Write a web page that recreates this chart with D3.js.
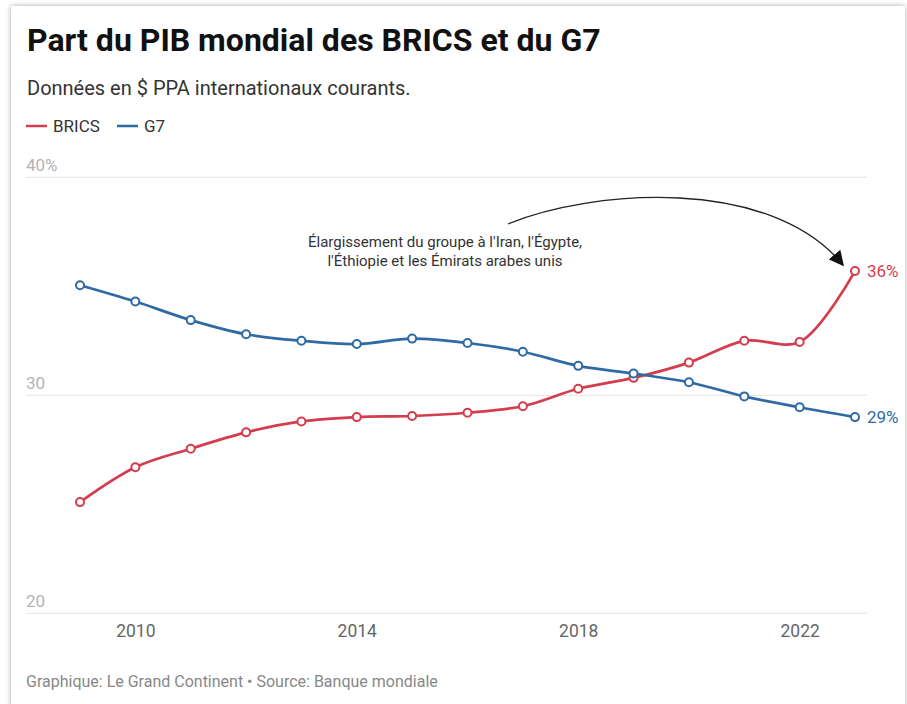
<!DOCTYPE html>
<html>
<head>
	<meta charset="utf-8">
	<title></title>
	<style>
		body { margin: 0; background: #fff; }
		#card {
			position: absolute; left: 11px; top: 6px; width: 894px; height: 720px;
			background: #fff; box-shadow: 0 0 5px rgba(0,0,0,0.35);
		}
		svg { position: absolute; left: 0; top: 0; }
		text { font-family: Roboto, "Noto Sans", sans-serif; }
	</style>
</head>
<body>
<div id="card"></div>
<svg id="chart" width="907" height="704"></svg>

<script src="https://d3js.org/d3.v7.min.js"></script>
<script>
	// Data (% of world GDP, PPP)
	const years = [2009, 2010, 2011, 2012, 2013, 2014, 2015, 2016, 2017, 2018, 2019, 2020, 2021, 2022, 2023]
	const brics = [25.1, 26.7, 27.55, 28.3, 28.8, 29.0, 29.05, 29.2, 29.5, 30.3, 30.8, 31.5, 32.5, 32.45, 35.7]
	const g7 = [35.05, 34.3, 33.45, 32.8, 32.5, 32.35, 32.6, 32.4, 32.0, 31.35, 31.0, 30.6, 29.95, 29.45, 29.0]
	const yTicks = [20, 30, 40]
	const xTicks = [2010, 2014, 2018, 2022]

	const red = '#d43d4d'
	const blue = '#2f6aa5'

	const svg = d3.select('#chart')

	// scales
	const x = d3.scaleLinear().domain([2009, 2023]).range([80, 855])
	const y = d3.scaleLinear().domain([20, 40]).range([613.3, 177.3])

	// header
	svg.append('text').attr('x', 27).attr('y', 51)
		.attr('font-size', 32).attr('font-weight', 700).attr('fill', '#111')
		.text('Part du PIB mondial des BRICS et du G7')
	svg.append('text').attr('x', 27).attr('y', 94.5)
		.attr('font-size', 20).attr('fill', '#333')
		.text('Données en $ PPA internationaux courants.')

	// legend
	const legend = [{ name: 'BRICS', color: red, x: 26 }, { name: 'G7', color: blue, x: 117 }]
	const lg = svg.selectAll('g.legend').data(legend).enter().append('g')
		.attr('transform', d => `translate(${d.x}, 126)`)
	lg.append('line').attr('x1', 0).attr('x2', 21).attr('stroke', d => d.color).attr('stroke-width', 2.5)
	lg.append('text').attr('x', 27).attr('y', 6).attr('font-size', 17).attr('fill', '#333').text(d => d.name)

	// grid + y labels
	svg.selectAll('line.grid').data(yTicks).enter().append('line')
		.attr('x1', 26).attr('x2', 867)
		.attr('y1', d => y(d)).attr('y2', d => y(d))
		.attr('stroke', '#e3e3e3').attr('stroke-width', 1)
	svg.selectAll('text.ylab').data(yTicks).enter().append('text')
		.attr('x', 26).attr('y', d => y(d) - 6)
		.attr('font-size', 17).attr('fill', '#b4b4b4')
		.text(d => d === 40 ? d + '%' : d)

	// x axis
	const xAxis = svg.append('g').attr('transform', 'translate(0, 613)')
		.call(d3.axisBottom(x).tickValues(xTicks).tickFormat(d3.format('d')).tickSize(0).tickPadding(12))
	xAxis.select('.domain').remove()
	xAxis.selectAll('text').attr('font-size', 17.5).attr('fill', '#666')
		.style('font-family', 'Roboto, sans-serif')

	// lines
	const series = [
		{ name: 'BRICS', values: brics, color: red },
		{ name: 'G7', values: g7, color: blue }
	]
	const line = d3.line()
		.x((d, i) => x(years[i]))
		.y(d => y(d))
		.curve(d3.curveCatmullRom)

	const sg = svg.selectAll('g.series').data(series).enter().append('g')
	sg.append('path')
		.attr('d', d => line(d.values))
		.attr('fill', 'none').attr('stroke', d => d.color).attr('stroke-width', 2.7)
	sg.selectAll('circle').data(d => d.values.map(v => ({ v, color: d.color }))).enter().append('circle')
		.attr('cx', (d, i) => x(years[i])).attr('cy', d => y(d.v)).attr('r', 4)
		.attr('fill', '#fff').attr('stroke', d => d.color).attr('stroke-width', 2)
	// end labels
	sg.append('text')
		.attr('x', x(2023) + 12)
		.attr('y', d => y(d.values[d.values.length - 1]) + 6)
		.attr('font-size', 17).attr('fill', d => d.color)
		.text(d => Math.round(d.values[d.values.length - 1]) + '%')

	// annotation
	svg.append('defs').append('marker')
		.attr('id', 'arrow').attr('viewBox', '0 0 10 10')
		.attr('refX', 9).attr('refY', 5)
		.attr('markerWidth', 15).attr('markerHeight', 15)
		.attr('markerUnits', 'userSpaceOnUse')
		.attr('orient', 'auto')
		.append('path').attr('d', 'M0,0 L10,5 L0,10 z').attr('fill', '#111')
	svg.append('path')
		.attr('d', 'M508,224 C590,190 770,175 843,265')
		.attr('fill', 'none').attr('stroke', '#222').attr('stroke-width', 1.3)
		.attr('marker-end', 'url(#arrow)')
	const note = svg.append('text').attr('text-anchor', 'middle')
		.attr('font-size', 15).attr('fill', '#333')
	note.append('tspan').attr('x', 445).attr('y', 247).text("Élargissement du groupe à l'Iran, l'Égypte,")
	note.append('tspan').attr('x', 445).attr('y', 266).text("l'Éthiopie et les Émirats arabes unis")

	// footer
	svg.append('text').attr('x', 26).attr('y', 687)
		.attr('font-size', 16).attr('fill', '#888')
		.text('Graphique: Le Grand Continent • Source: Banque mondiale')
</script>
</body>
</html>
